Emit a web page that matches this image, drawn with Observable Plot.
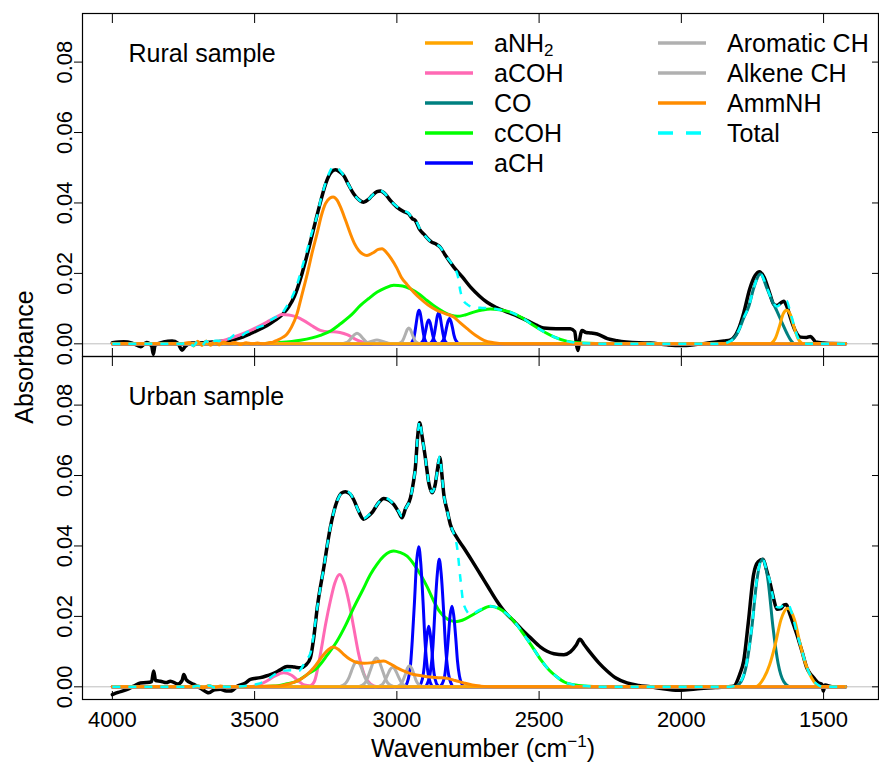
<!DOCTYPE html>
<html><head><meta charset="utf-8">
<script src="https://cdn.jsdelivr.net/npm/d3@7"></script>
<script src="https://cdn.jsdelivr.net/npm/@observablehq/plot@0.6"></script>
<style>body{margin:0;background:#fff}</style>
</head><body><div id="chart"></div>
<script>
const panels = ["Rural sample", "Urban sample"];
const xTicks = [4000, 3500, 3000, 2500, 2000, 1500];
const yTicks = [0, 0.02, 0.04, 0.06, 0.08];
const legendCol1 = ["aNH2", "aCOH", "CO", "cCOH", "aCH"];
const legendCol2 = ["Aromatic CH", "Alkene CH", "AmmNH", "Total"];

// ---------- Rural sample ----------
const ruralMeasured = [[4000,0.0003],[3960,0.0006],[3930,0.0002],[3900,-0.0008],[3880,0.0004],[3862,-0.0006],[3856,-0.003],[3850,-0.0004],[3820,0.0005],[3790,0.0008],[3770,0.0002],[3755,-0.0018],[3745,-0.0008],[3720,0.0002],[3680,0.0003],[3640,0.0006],[3600,0.0008],[3573,0.0012],[3540,0.002],[3515,0.0029],[3480,0.0042],[3456,0.0052],[3430,0.0066],[3400,0.0085],[3380,0.0105],[3360,0.0135],[3335,0.0195],[3310,0.027],[3290,0.0335],[3270,0.0398],[3250,0.0455],[3232,0.0486],[3216,0.0494],[3200,0.0488],[3187,0.0478],[3170,0.0452],[3152,0.0426],[3135,0.041],[3117,0.0402],[3100,0.041],[3087,0.0421],[3070,0.0432],[3058,0.0434],[3040,0.0425],[3023,0.0407],[3000,0.0388],[2975,0.0375],[2960,0.037],[2945,0.0355],[2935,0.035],[2920,0.0325],[2906,0.0312],[2880,0.029],[2860,0.0282],[2847,0.0274],[2830,0.0252],[2800,0.0218],[2770,0.019],[2741,0.0161],[2710,0.0136],[2683,0.0118],[2650,0.0103],[2612,0.009],[2575,0.0078],[2542,0.0066],[2510,0.0053],[2484,0.0045],[2440,0.0043],[2390,0.0043],[2375,0.0035],[2368,-0.0005],[2363,-0.0019],[2358,0.001],[2349,0.0038],[2335,0.0032],[2320,0.0031],[2296,0.0028],[2260,0.0015],[2226,0.0009],[2150,0.0003],[2109,0.0002],[2050,-0.0003],[2003,-0.0005],[1950,-0.0002],[1900,0.0003],[1850,0.0008],[1827,0.0011],[1800,0.004],[1780,0.009],[1760,0.0155],[1740,0.0195],[1725,0.0205],[1710,0.019],[1690,0.0145],[1675,0.0112],[1664,0.0109],[1652,0.0115],[1640,0.0121],[1630,0.0108],[1615,0.007],[1600,0.0038],[1581,0.0019],[1560,0.0018],[1546,0.0021],[1535,0.0012],[1528,0.0005],[1500,0.0002],[1470,0.0001],[1423,0]];
const ruralTotal = [[4000,0],[3760,0],[3730,0.0004],[3715,-0.0006],[3700,0.0007],[3685,-0.0005],[3670,0.0008],[3655,-0.0004],[3640,0.0009],[3625,0.0008],[3610,0.0017],[3590,0.0014],[3570,0.0025],[3550,0.0022],[3530,0.0032],[3510,0.0036],[3490,0.0046],[3470,0.0052],[3450,0.0064],[3430,0.0074],[3404,0.0086],[3386,0.0108],[3370,0.013],[3351,0.0168],[3335,0.0212],[3316,0.0265],[3298,0.0318],[3280,0.0365],[3265,0.0418],[3251,0.0455],[3235,0.049],[3224,0.0502],[3210,0.05],[3198,0.049],[3187,0.0478],[3170,0.0452],[3152,0.0426],[3135,0.041],[3117,0.0402],[3100,0.041],[3087,0.0421],[3070,0.0432],[3058,0.0435],[3040,0.0425],[3023,0.0407],[3000,0.039],[2975,0.0378],[2960,0.0372],[2945,0.0356],[2935,0.0352],[2920,0.0328],[2906,0.0312],[2880,0.029],[2860,0.0282],[2847,0.0274],[2830,0.0252],[2800,0.0218],[2785,0.019],[2777,0.0151],[2765,0.0122],[2753,0.0112],[2730,0.0104],[2700,0.0102],[2671,0.0101],[2640,0.0097],[2601,0.009],[2560,0.0074],[2519,0.0052],[2480,0.0033],[2448,0.002],[2400,0.0007],[2350,0.0002],[2250,0],[1860,0],[1827,0.0008],[1800,0.0035],[1780,0.0075],[1763,0.0106],[1745,0.016],[1722,0.0198],[1698,0.0157],[1680,0.0122],[1664,0.0106],[1650,0.0115],[1640,0.0122],[1630,0.0122],[1618,0.0093],[1605,0.0055],[1590,0.0017],[1570,0.0002],[1550,0],[1423,0]];
const ruralAmmNH = [[4000,0],[3760,0],[3730,0.0004],[3715,-0.0006],[3700,0.0007],[3685,-0.0005],[3670,0.0008],[3655,-0.0004],[3640,0.0006],[3625,-0.0003],[3610,0.0005],[3590,0],[3570,0.0004],[3550,-0.0002],[3530,0.0003],[3510,0],[3490,0.0002],[3470,0],[3450,0.0003],[3435,0.0005],[3421,0.001],[3400,0.0019],[3386,0.0028],[3370,0.0048],[3351,0.0085],[3335,0.0135],[3316,0.0195],[3298,0.0258],[3280,0.0315],[3265,0.0365],[3251,0.0398],[3235,0.0414],[3224,0.0417],[3210,0.0408],[3198,0.0388],[3180,0.035],[3163,0.0312],[3148,0.0283],[3134,0.0265],[3120,0.0255],[3105,0.0251],[3085,0.0258],[3065,0.0268],[3052,0.027],[3035,0.0258],[3020,0.0242],[3000,0.0215],[2985,0.019],[2964,0.0168],[2940,0.0146],[2917,0.0128],[2890,0.011],[2859,0.0095],[2830,0.0086],[2800,0.0076],[2778,0.006],[2753,0.0043],[2725,0.0025],[2694,0.001],[2660,0.0003],[2620,0],[1423,0]];
const ruralANH2 = [[4000,0],[1690,0],[1670,0.0015],[1655,0.005],[1642,0.0085],[1630,0.0095],[1618,0.0085],[1605,0.005],[1590,0.0015],[1570,0],[1423,0]];
const ruralACOH = [[4000,0],[3680,0],[3640,0.0003],[3600,0.0012],[3560,0.0023],[3520,0.0036],[3480,0.0052],[3450,0.0065],[3425,0.0076],[3404,0.0083],[3380,0.0082],[3355,0.0077],[3327,0.0066],[3300,0.0052],[3269,0.0038],[3240,0.0034],[3222,0.0034],[3200,0.0032],[3175,0.0026],[3150,0.0015],[3128,0.0007],[3100,0.0001],[3050,0],[1423,0]];
const ruralCO = [[4000,0],[1860,0],[1827,0.0008],[1800,0.0035],[1780,0.0075],[1763,0.0106],[1745,0.016],[1722,0.0198],[1698,0.0155],[1680,0.012],[1664,0.0093],[1645,0.0058],[1629,0.003],[1615,0.001],[1600,0],[1423,0]];
const ruralCCOH = [[4000,0],[3500,0],[3420,0.0003],[3339,0.001],[3269,0.0024],[3230,0.0038],[3198,0.0057],[3160,0.0082],[3128,0.0109],[3100,0.0128],[3069,0.0147],[3040,0.0159],[3011,0.0166],[2980,0.0164],[2952,0.0156],[2920,0.014],[2894,0.0123],[2865,0.0105],[2835,0.009],[2810,0.0081],[2788,0.0078],[2760,0.0082],[2730,0.009],[2700,0.0096],[2671,0.0099],[2640,0.0097],[2601,0.009],[2560,0.0074],[2519,0.0052],[2480,0.0033],[2448,0.002],[2400,0.0007],[2350,0.0002],[2250,0],[1423,0]];
const ruralACH = [
  [[4000,0],[2955,0],[2942,0.0013],[2937,0.0031],[2932,0.0058],[2927,0.0084],[2922,0.0095],[2917,0.0084],[2912,0.0058],[2907,0.0031],[2902,0.0013],[2890,0],[1423,0]],
  [[4000,0],[2921,0],[2908,0.0009],[2903,0.0022],[2898,0.0041],[2893,0.006],[2888,0.0068],[2883,0.006],[2878,0.0041],[2873,0.0022],[2868,0.0009],[2855,0],[1423,0]],
  [[4000,0],[2886,0],[2873,0.0012],[2868,0.0029],[2863,0.0053],[2858,0.0078],[2853,0.0088],[2848,0.0078],[2843,0.0053],[2838,0.0029],[2833,0.0012],[2820,0],[1423,0]],
  [[4000,0],[2851,0],[2837,0.001],[2831,0.0024],[2826,0.0044],[2820,0.0064],[2815,0.0072],[2810,0.0064],[2804,0.0044],[2799,0.0024],[2793,0.001],[2779,0],[1423,0]]
];
const ruralAromatic = [
  [[4000,0],[3200,0],[3176,0.0004],[3167,0.001],[3158,0.0018],[3149,0.0026],[3140,0.003],[3131,0.0026],[3122,0.0018],[3113,0.001],[3104,0.0004],[3080,0],[1423,0]],
  [[4000,0],[3135,0],[3110,0.0002],[3090,0.0007],[3070,0.0011],[3050,0.0007],[3030,0.0002],[3005,0],[1423,0]]
];
const ruralAlkene = [
  [[4000,0],[2998,0],[2982,0.0006],[2976,0.0015],[2970,0.0027],[2964,0.004],[2958,0.0045],[2952,0.004],[2946,0.0027],[2940,0.0015],[2934,0.0006],[2918,0],[1423,0]]
];

// ---------- Urban sample ----------
const urbanMeasured = [[4000,-0.0022],[3980,-0.0016],[3950,-0.0008],[3925,0.0002],[3902,0.0011],[3880,0.0012],[3862,0.0015],[3855,0.0045],[3848,0.0018],[3831,0.0016],[3810,0.0012],[3796,0.0016],[3770,0.0008],[3755,0.0018],[3749,0.0035],[3740,0.002],[3714,0.0007],[3690,-0.0004],[3661,-0.0017],[3640,-0.0008],[3620,-0.0007],[3600,-0.0012],[3585,-0.0012],[3560,0.0002],[3532,0.0011],[3515,0.0021],[3480,0.0026],[3455,0.0032],[3433,0.0038],[3410,0.0048],[3386,0.0058],[3360,0.0056],[3339,0.0054],[3320,0.0062],[3304,0.0082],[3292,0.014],[3280,0.0224],[3257,0.0338],[3234,0.0452],[3210,0.0528],[3195,0.055],[3181,0.0554],[3165,0.0548],[3152,0.0532],[3135,0.05],[3117,0.0476],[3100,0.0485],[3087,0.0495],[3065,0.0522],[3046,0.0535],[3028,0.053],[3011,0.0518],[2995,0.0498],[2982,0.048],[2970,0.0505],[2952,0.0537],[2942,0.058],[2935,0.0622],[2927,0.071],[2920,0.075],[2912,0.0715],[2900,0.0651],[2888,0.058],[2876,0.0551],[2865,0.0575],[2856,0.0625],[2849,0.0651],[2842,0.0605],[2835,0.0547],[2823,0.05],[2812,0.0461],[2790,0.0425],[2765,0.0395],[2735,0.0357],[2706,0.0319],[2678,0.0282],[2648,0.0243],[2620,0.0212],[2589,0.0187],[2560,0.0162],[2530,0.0139],[2495,0.0113],[2472,0.0101],[2448,0.0094],[2413,0.0091],[2390,0.0099],[2370,0.0118],[2357,0.0135],[2340,0.0118],[2320,0.0097],[2290,0.0068],[2261,0.0045],[2230,0.0025],[2191,0.0011],[2150,0.0004],[2109,0],[2050,-0.0007],[2003,-0.001],[1950,-0.0006],[1880,-0.0002],[1816,0.0002],[1795,0.0035],[1781,0.0073],[1765,0.018],[1746,0.0319],[1730,0.0355],[1713,0.0362],[1700,0.033],[1687,0.0291],[1675,0.0248],[1664,0.022],[1650,0.0222],[1640,0.0232],[1631,0.0234],[1620,0.021],[1605,0.0175],[1594,0.0149],[1575,0.0098],[1559,0.0054],[1545,0.0035],[1535,0.0026],[1520,0.0012],[1506,0.0007],[1501,-0.0012],[1495,0.0005],[1470,0],[1423,0]];
const urbanTotal = [[4000,0],[3720,0],[3700,0.0003],[3680,-0.0003],[3660,0.0004],[3640,-0.0002],[3620,0.0002],[3600,0],[3560,0.0001],[3520,0.0004],[3490,0.0008],[3460,0.0018],[3430,0.0035],[3398,0.0046],[3370,0.0047],[3345,0.0045],[3320,0.0075],[3304,0.0095],[3292,0.015],[3280,0.0224],[3257,0.0338],[3234,0.0452],[3210,0.0528],[3195,0.055],[3181,0.0556],[3165,0.055],[3152,0.0532],[3135,0.05],[3117,0.0478],[3100,0.0487],[3087,0.0497],[3065,0.0522],[3046,0.0537],[3028,0.0532],[3011,0.0518],[2995,0.05],[2982,0.0484],[2970,0.0505],[2952,0.0537],[2942,0.058],[2935,0.0622],[2927,0.071],[2920,0.0755],[2912,0.0715],[2900,0.0651],[2888,0.058],[2876,0.0553],[2865,0.0575],[2856,0.0625],[2849,0.0655],[2842,0.0605],[2835,0.0547],[2823,0.05],[2812,0.0461],[2800,0.0435],[2788,0.0395],[2777,0.031],[2765,0.0234],[2741,0.0206],[2705,0.022],[2671,0.0229],[2640,0.0222],[2612,0.0206],[2580,0.0178],[2554,0.0149],[2525,0.0115],[2495,0.0078],[2465,0.0048],[2437,0.0028],[2410,0.0013],[2378,0.0006],[2340,0.0002],[2280,0],[1830,0],[1815,0.0002],[1790,0.0017],[1770,0.0069],[1752,0.0172],[1735,0.0302],[1715,0.0365],[1700,0.033],[1687,0.0295],[1678,0.0255],[1668,0.0228],[1655,0.0225],[1640,0.0232],[1626,0.0235],[1610,0.0205],[1594,0.0152],[1582,0.012],[1562,0.0063],[1542,0.0025],[1520,0.0006],[1500,0],[1423,0]];
const urbanAmmNH = [[4000,0],[3720,0],[3700,0.0003],[3680,-0.0003],[3660,0.0004],[3640,-0.0002],[3620,0.0002],[3600,0],[3420,0.0002],[3380,0.0008],[3351,0.0016],[3320,0.0032],[3292,0.0054],[3270,0.0078],[3257,0.0092],[3240,0.0106],[3224,0.0113],[3205,0.0106],[3187,0.0092],[3165,0.0078],[3140,0.0069],[3115,0.0067],[3093,0.0068],[3065,0.0072],[3046,0.0073],[3025,0.0066],[2999,0.0054],[2970,0.0043],[2941,0.0035],[2910,0.0031],[2882,0.0028],[2850,0.0026],[2823,0.0024],[2795,0.0018],[2765,0.0011],[2735,0.0005],[2706,0.0002],[2660,0],[1423,0]];
const urbanANH2 = [[4000,0],[1740,0],[1710,0.0025],[1690,0.0062],[1670,0.012],[1650,0.019],[1626,0.0223],[1602,0.019],[1582,0.012],[1562,0.0062],[1542,0.0025],[1510,0],[1423,0]];
const urbanACOH = [[4000,0],[3520,0],[3490,0.0004],[3460,0.0015],[3430,0.003],[3398,0.004],[3370,0.0033],[3345,0.0016],[3325,0.0005],[3305,0.0003],[3290,0.0015],[3269,0.0092],[3250,0.018],[3234,0.0243],[3218,0.0295],[3201,0.0319],[3185,0.0295],[3169,0.0243],[3152,0.017],[3134,0.0092],[3115,0.0035],[3093,0.0008],[3070,0],[1423,0]];
const urbanCO = [[4000,0],[1815,0],[1790,0.0015],[1770,0.0067],[1752,0.017],[1735,0.03],[1715,0.0362],[1695,0.03],[1678,0.017],[1660,0.0067],[1640,0.0015],[1615,0],[1423,0]];
const urbanCCOH = [[4000,0],[3520,0],[3433,0.0002],[3390,0.0008],[3351,0.0016],[3315,0.0035],[3280,0.0054],[3245,0.009],[3210,0.013],[3180,0.0175],[3152,0.0224],[3120,0.0275],[3093,0.0319],[3070,0.0348],[3046,0.0371],[3025,0.0383],[3011,0.0386],[2990,0.0382],[2964,0.0371],[2940,0.0348],[2917,0.0319],[2893,0.0283],[2870,0.0243],[2850,0.0214],[2829,0.0196],[2810,0.0188],[2794,0.0185],[2770,0.0189],[2741,0.0201],[2705,0.0218],[2671,0.0229],[2640,0.0222],[2612,0.0206],[2580,0.0178],[2554,0.0149],[2525,0.0115],[2495,0.0078],[2465,0.0048],[2437,0.0028],[2410,0.0013],[2378,0.0006],[2340,0.0002],[2280,0],[1423,0]];
const urbanACH = [
  [[4000,0],[2973,0],[2968,0.0004],[2953,0.0054],[2946,0.0129],[2938,0.0242],[2931,0.0351],[2923,0.0398],[2916,0.0351],[2908,0.0242],[2901,0.0129],[2893,0.0054],[2878,0.0004],[2873,0],[1423,0]],
  [[4000,0],[2925,0],[2921,0.0002],[2910,0.0023],[2904,0.0056],[2899,0.0104],[2893,0.0152],[2888,0.0172],[2883,0.0152],[2877,0.0104],[2872,0.0056],[2866,0.0023],[2855,0.0002],[2851,0],[1423,0]],
  [[4000,0],[2901,0],[2896,0.0004],[2881,0.0049],[2873,0.0117],[2866,0.022],[2858,0.0319],[2851,0.0362],[2844,0.0319],[2836,0.022],[2829,0.0117],[2821,0.0049],[2806,0.0004],[2801,0],[1423,0]],
  [[4000,0],[2850,0],[2845,0.0003],[2832,0.0031],[2826,0.0074],[2819,0.0139],[2813,0.0202],[2806,0.0229],[2800,0.0202],[2793,0.0139],[2787,0.0074],[2780,0.0031],[2767,0.0003],[2762,0],[1423,0]]
];
const urbanAromatic = [
  [[4000,0],[3205,0],[3200,0.0001],[3180,0.001],[3170,0.0023],[3160,0.0044],[3150,0.0064],[3140,0.0072],[3130,0.0064],[3120,0.0044],[3110,0.0023],[3100,0.001],[3080,0.0001],[3075,0],[1423,0]],
  [[4000,0],[3137,0],[3132,0.0001],[3112,0.0011],[3102,0.0027],[3092,0.005],[3082,0.0072],[3072,0.0082],[3062,0.0072],[3052,0.005],[3042,0.0027],[3032,0.0011],[3012,0.0001],[3007,0],[1423,0]]
];
const urbanAlkene = [
  [[4000,0],[3075,0],[3051,0.0007],[3042,0.0018],[3033,0.0033],[3024,0.0049],[3015,0.0055],[3006,0.0049],[2997,0.0033],[2988,0.0018],[2979,0.0007],[2955,0],[1423,0]],
  [[4000,0],[3005,0],[2985,0.0008],[2978,0.0019],[2970,0.0036],[2963,0.0053],[2955,0.006],[2948,0.0053],[2940,0.0036],[2933,0.0019],[2925,0.0008],[2905,0],[1423,0]]
];

// ---------- styles ----------
const styles = {
  measured: {stroke: "#000000", width: 3.5},
  aCOH: {stroke: "#FF69B4", width: 3},
  CO: {stroke: "#008080", width: 3},
  cCOH: {stroke: "#00FF00", width: 3},
  aCH: {stroke: "#0000FF", width: 3},
  "Aromatic CH": {stroke: "#B0B0B0", width: 3},
  "Alkene CH": {stroke: "#B0B0B0", width: 3},
  aNH2: {stroke: "#FFA500", width: 3},
  AmmNH: {stroke: "#FF8C00", width: 3},
  Total: {stroke: "#00FFFF", width: 2.5, dash: "8,8"}
};
const drawOrder = ["measured", "aCOH", "CO", "cCOH", "aCH", "Aromatic CH", "Alkene CH", "aNH2", "AmmNH", "Total"];

// ---------- build table ----------
const rows = [];
function add(panel, comp, list) {
  list.forEach((pts, i) => pts.forEach(([wn, abs]) => rows.push({panel, comp, id: panel + comp + i, wn, abs})));
}
add(panels[0], "measured", [ruralMeasured]);
add(panels[0], "Total", [ruralTotal]);
add(panels[0], "AmmNH", [ruralAmmNH]);
add(panels[0], "aNH2", [ruralANH2]);
add(panels[0], "aCOH", [ruralACOH]);
add(panels[0], "CO", [ruralCO]);
add(panels[0], "cCOH", [ruralCCOH]);
add(panels[0], "aCH", ruralACH);
add(panels[0], "Aromatic CH", ruralAromatic);
add(panels[0], "Alkene CH", ruralAlkene);
add(panels[1], "measured", [urbanMeasured]);
add(panels[1], "Total", [urbanTotal]);
add(panels[1], "AmmNH", [urbanAmmNH]);
add(panels[1], "aNH2", [urbanANH2]);
add(panels[1], "aCOH", [urbanACOH]);
add(panels[1], "CO", [urbanCO]);
add(panels[1], "cCOH", [urbanCCOH]);
add(panels[1], "aCH", urbanACH);
add(panels[1], "Aromatic CH", urbanAromatic);
add(panels[1], "Alkene CH", urbanAlkene);

const lineMarks = drawOrder.map(comp => Plot.line(rows.filter(r => r.comp === comp), {
  x: "wn", y: "abs", fy: "panel", z: "id",
  stroke: styles[comp].stroke, strokeWidth: styles[comp].width,
  strokeDasharray: styles[comp].dash, curve: "monotone-x",
  strokeLinejoin: "round", strokeLinecap: styles[comp].dash ? "butt" : "round"
}));

const FONT = "'Liberation Sans', Arial, Helvetica, sans-serif";

const chart = Plot.plot({
  width: 879, height: 767,
  marginLeft: 82, marginRight: 1, marginTop: 13, marginBottom: 68,
  style: {fontFamily: FONT, fontSize: "22px", background: "white", color: "black"},
  x: {domain: [4105, 1307]},
  y: {domain: [-0.0036, 0.0938]},
  fy: {domain: panels, axis: null, padding: 0, round: false},
  marks: [
    Plot.ruleY([0], {stroke: "#BEBEBE", strokeWidth: 1}),
    ...lineMarks,
    Plot.frame({stroke: "black", strokeWidth: 1.2}),
    Plot.axisY({ticks: yTicks, tickFormat: d3.format(".2f"), tickRotate: -90, tickSize: 8, tickPadding: 3, fontSize: 22, label: null}),
    Plot.axisY({anchor: "right", ticks: yTicks, tickSize: 7, dx: -7, fill: "none", label: null}),
    Plot.axisX({anchor: "bottom", ticks: xTicks, tickSize: 0, tickPadding: 12, tickFormat: d3.format("d"), fontSize: 22, label: null}),
    Plot.axisX({anchor: "bottom", ticks: xTicks, tickSize: 8, dy: -8, fill: "none", label: null, facetAnchor: null}),
    Plot.axisX({anchor: "top", ticks: xTicks, tickSize: 9, dy: 9, fill: "none", label: null, facetAnchor: null}),
    Plot.text(panels, {fy: d => d, text: d => d, frameAnchor: "top-left", dx: 46, dy: 31, textAnchor: "start", fontSize: 25})
  ]
});

const svg = d3.select(chart);
// axis titles
svg.append("text").attr("transform", "translate(33,357) rotate(-90)")
  .attr("text-anchor", "middle").attr("font-size", 25).attr("font-family", FONT).attr("fill", "black").text("Absorbance");
const xl = svg.append("text").attr("x", 483).attr("y", 757).attr("text-anchor", "middle")
  .attr("font-size", 25).attr("font-family", FONT).attr("fill", "black");
xl.append("tspan").text("Wavenumber (cm");
xl.append("tspan").attr("font-size", 17).attr("dy", -10).text("\u22121");
xl.append("tspan").attr("dy", 10).text(")");

// legend
const leg = svg.append("g").attr("font-family", FONT).attr("font-size", 25).attr("fill", "black").attr("text-anchor", "start");
function legendItem(name, lx, tx, y) {
  const s = styles[name];
  leg.append("line").attr("x1", lx).attr("x2", lx + 48).attr("y1", y).attr("y2", y)
    .attr("stroke", s.stroke).attr("stroke-width", 3.5)
    .attr("stroke-dasharray", s.dash ? "15,13" : null);
  const t = leg.append("text").attr("x", tx).attr("y", y + 9).attr("text-anchor", "start");
  if (name === "aNH2") {
    t.append("tspan").text("aNH");
    t.append("tspan").attr("font-size", 17).attr("dy", 4).text("2");
  } else t.text(name);
}
legendCol1.forEach((n, i) => legendItem(n, 425, 494, 43 + 30 * i));
legendCol2.forEach((n, i) => legendItem(n, 658, 727, 43 + 30 * i));

document.getElementById("chart").appendChild(chart);
</script></body></html>
